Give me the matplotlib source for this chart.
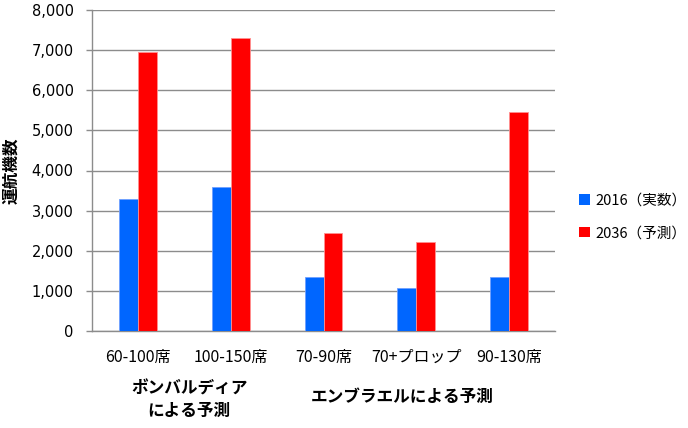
import matplotlib
matplotlib.use("Agg")
import matplotlib.pyplot as plt
import numpy as np
from matplotlib.patches import Patch

plt.rcParams["font.family"] = ["Noto Sans CJK JP", "DejaVu Sans"]

categories = ["60-100席", "100-150席", "70-90席", "70+プロップ", "90-130席"]
series_names = ["2016（実数）", "2036（予測）"]
actual_2016 = [3300, 3600, 1350, 1080, 1350]
forecast_2036 = [6950, 7300, 2450, 2220, 5450]
group_labels = ["ボンバルディア\nによる予測", "エンブラエルによる予測"]
group_pos = [0.55, 2.85]
y_ticks = [0, 1000, 2000, 3000, 4000, 5000, 6000, 7000, 8000]

BLUE = "#0066FF"
RED = "#FF0000"
GRID = "#8C8C8C"

fig = plt.figure(figsize=(6.88, 4.28), dpi=100)
ax = fig.add_axes([92 / 688, 1 - 331 / 428, 463 / 688, 321 / 428])

x = np.arange(len(categories))
w = 0.205
ax.bar(x - w / 2, actual_2016, width=w, color=BLUE, edgecolor="#6FA0FF", linewidth=0.6, zorder=3)
ax.bar(x + w / 2, forecast_2036, width=w, color=RED, edgecolor="#FF9090", linewidth=0.6, zorder=3)

ax.set_xlim(-0.5, len(categories) - 0.5)
ax.set_ylim(0, 8000)
ax.set_yticks(y_ticks)
ax.set_yticklabels([f"{v:,}" for v in y_ticks], fontsize=10.5, family="DejaVu Sans")
ax.set_xticks(x)
ax.set_xticklabels(categories, fontsize=11.5)
ax.tick_params(axis="x", length=0, pad=13)
ax.tick_params(axis="y", length=4.3, width=1, color=GRID, pad=9)
ax.yaxis.grid(True, color=GRID, linewidth=1, zorder=0)
for s in ["top", "right"]:
    ax.spines[s].set_visible(False)
for s in ["left", "bottom"]:
    ax.spines[s].set_color(GRID)
    ax.spines[s].set_linewidth(1)

ax.set_ylabel("運航機数", fontsize=12, fontweight="bold", labelpad=8)

trans = ax.get_xaxis_transform()
ax.text(group_pos[0], -0.214, group_labels[0], transform=trans, ha="center", va="center",
        fontsize=12, fontweight="bold", linespacing=1.3)
ax.text(group_pos[1], -0.206, group_labels[1], transform=trans, ha="center", va="center",
        fontsize=12, fontweight="bold")

handles = [Patch(facecolor=BLUE), Patch(facecolor=RED)]
fig.legend(handles, series_names, loc="center left", bbox_to_anchor=(579 / 688, 1 - 217 / 428),
           frameon=False, fontsize=10.5, handlelength=0.75, handleheight=0.75,
           handletextpad=0.35, labelspacing=1.25, borderaxespad=0, borderpad=0)

fig.savefig("out.png", dpi=100)
